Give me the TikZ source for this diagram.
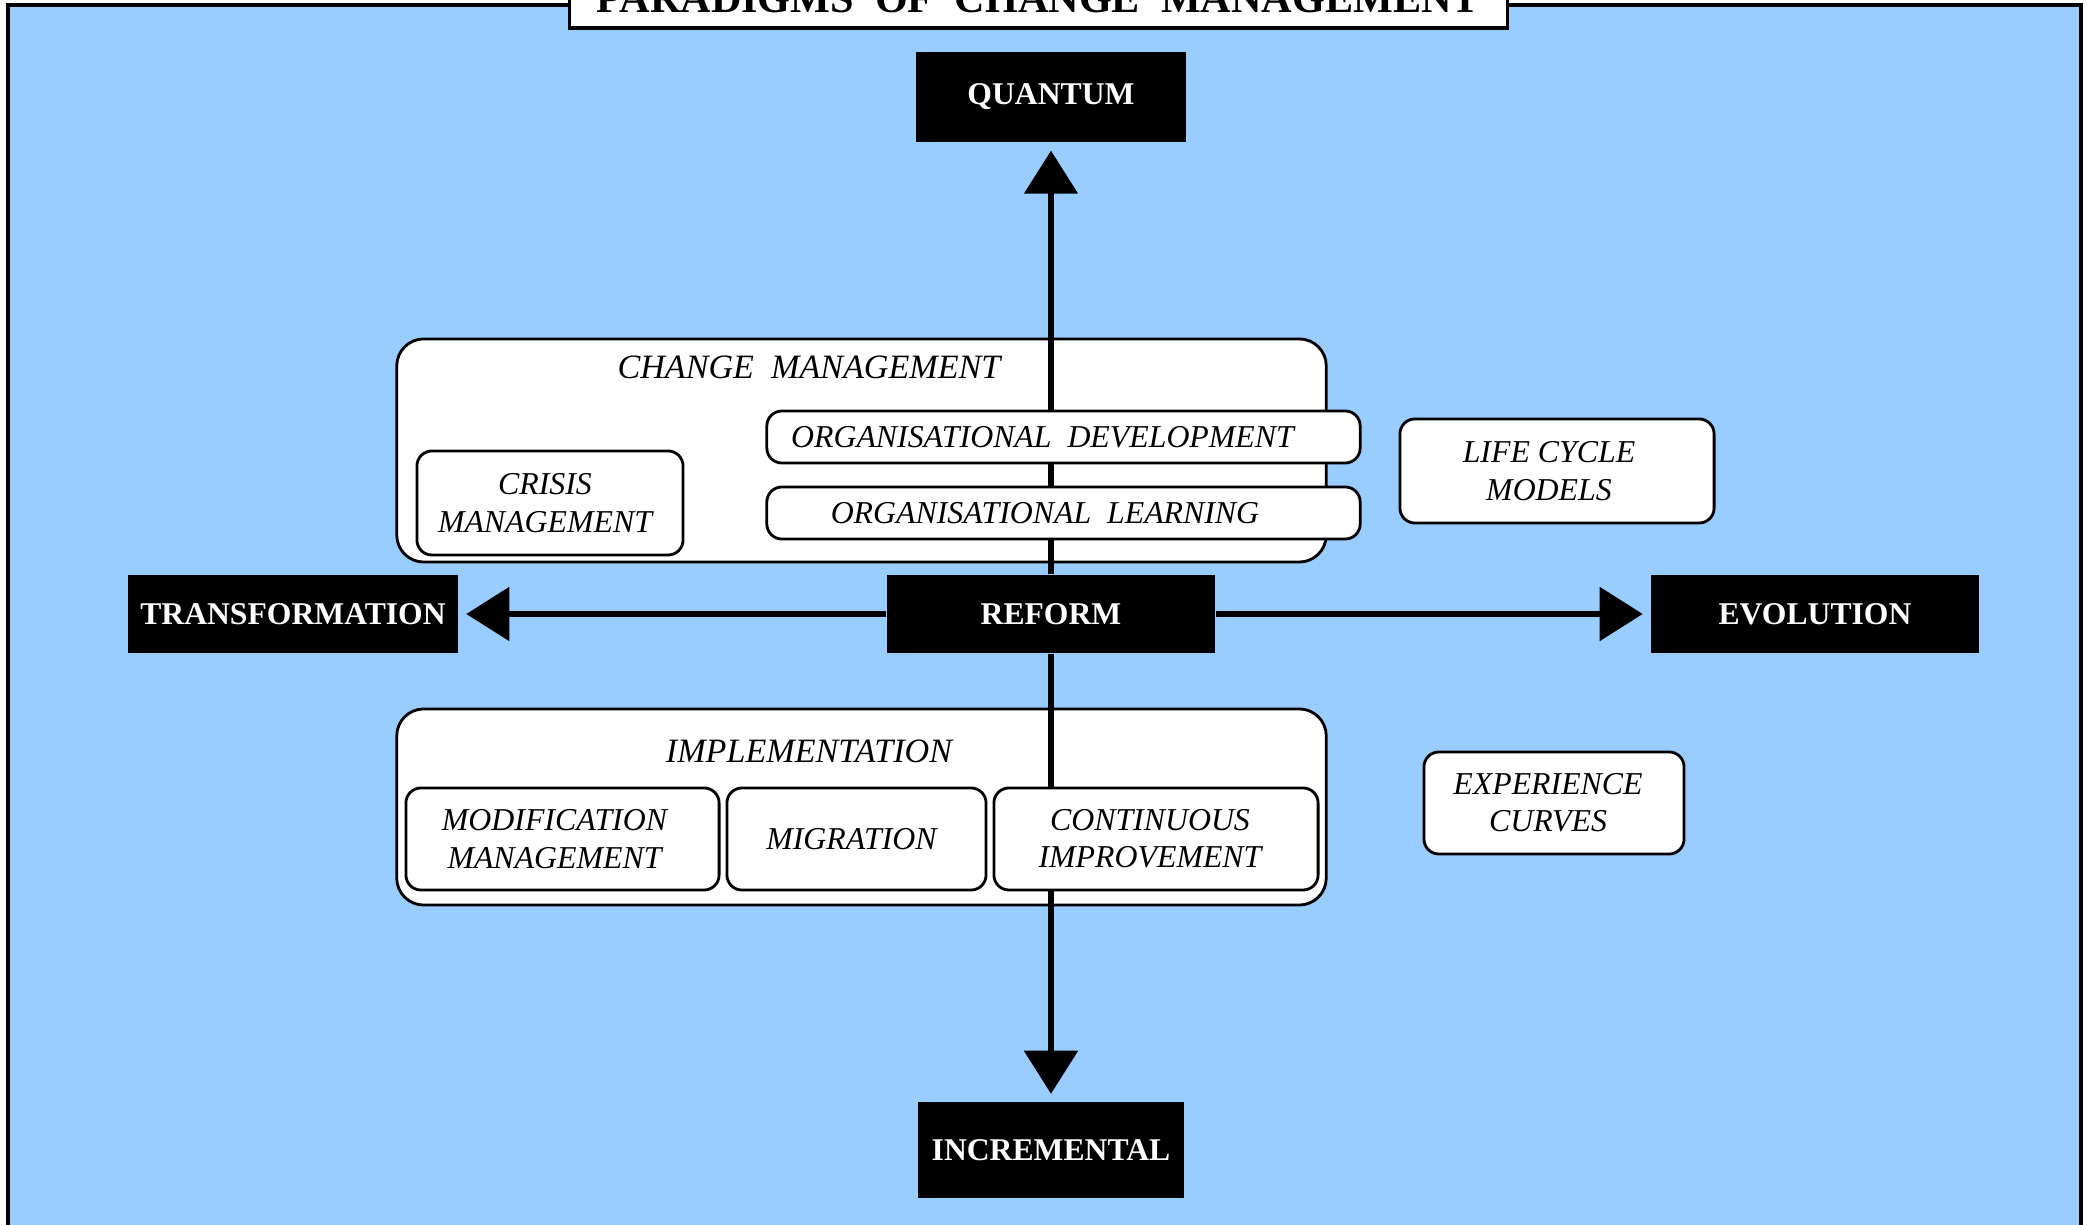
\documentclass[tikz,border=0pt]{standalone}
\usepackage{fontspec}
\setmainfont{Liberation Serif}
\usetikzlibrary{arrows.meta}
\definecolor{skyback}{HTML}{99CCFF}
\begin{document}
\begin{tikzpicture}[x=0.01cm,y=-0.01cm,
    pole/.style={fill=black,text=white,font=\fontsize{9}{11}\selectfont\bfseries,minimum height=0.78cm},
    group/.style={draw,fill=white,rounded corners=0.27cm,line width=0.8pt},
    heading/.style={font=\fontsize{9.7}{11}\selectfont\itshape},
    item/.style={draw,fill=white,rounded corners=0.15cm,line width=0.8pt,inner sep=0pt,
      align=center,font=\fontsize{9.05}{10.6}\selectfont\itshape},
    axis/.style={line width=1.5pt,-{Triangle[width=0.53cm,length=0.43cm]},shorten >=0.08cm}]
  \useasboundingbox (0,0) rectangle (2087,1225);
  \draw[fill=skyback,line width=0.9pt] (8,5) rectangle (2081,1260);
  \draw
    (1038.5,-1) node[draw,fill=white,line width=0.9pt,minimum width=9.37cm,minimum height=0.58cm,
      font=\fontsize{12}{14}\selectfont\bfseries] (title){PARADIGMS~~OF~~CHANGE~~MANAGEMENT};
  % the two large boxes
  \draw
    (861.5,450.5) node[group,minimum width=9.29cm,minimum height=2.23cm] (chmgmt){}
    (809,367) node[heading] (chmgmthead){CHANGE~~MANAGEMENT}
    (861.5,807) node[group,minimum width=9.29cm,minimum height=1.96cm] (impl){}
    (809,751) node[heading] (implhead){IMPLEMENTATION};
  \draw
    (1051,97) node[pole,minimum width=2.69cm,minimum height=0.9cm] (quantum){QUANTUM}
    (1051,614) node[pole,minimum width=3.28cm] (reform){REFORM}
    (293,614) node[pole,minimum width=3.29cm] (transformation){TRANSFORMATION}
    (1815,614) node[pole,minimum width=3.27cm] (evolution){EVOLUTION}
    (1051,1150) node[pole,minimum width=2.65cm,minimum height=0.95cm] (incremental){INCREMENTAL};
  \begin{scope}[axis]
    \draw (reform) to (quantum);
    \draw (reform) to (incremental);
    \draw (reform) to (transformation);
    \draw (reform) to (evolution);
  \end{scope}
  \draw
    (1063.5,437) node[item,minimum width=5.93cm,minimum height=0.52cm] (orgdev){ORGANISATIONAL~~DEVELOPMENT\hspace*{0.42cm}}
    (1063.5,513) node[item,minimum width=5.93cm,minimum height=0.52cm] (orglearn){ORGANISATIONAL~~LEARNING\hspace*{0.37cm}}
    (550,503) node[item,minimum width=2.66cm,minimum height=1.04cm] (crisis){CRISIS\hspace*{0.1cm}\\MANAGEMENT\hspace*{0.1cm}}
    (1557,471) node[item,minimum width=3.14cm,minimum height=1.04cm] (lifecycle){LIFE CYCLE\hspace*{0.16cm}\\MODELS\hspace*{0.16cm}}
    (562.5,839) node[item,minimum width=3.13cm,minimum height=1.02cm] (modification){MODIFICATION\hspace*{0.16cm}\\MANAGEMENT\hspace*{0.16cm}}
    (856.5,839) node[item,minimum width=2.59cm,minimum height=1.02cm] (migration){MIGRATION\hspace*{0.1cm}}
    (1156,839) node[item,minimum width=3.24cm,minimum height=1.02cm] (continuous){CONTINUOUS\hspace*{0.12cm}\\IMPROVEMENT\hspace*{0.12cm}}
    (1554,803) node[item,minimum width=2.60cm,minimum height=1.02cm] (experience){EXPERIENCE\hspace*{0.12cm}\\CURVES\hspace*{0.12cm}};
\end{tikzpicture}
\end{document}
